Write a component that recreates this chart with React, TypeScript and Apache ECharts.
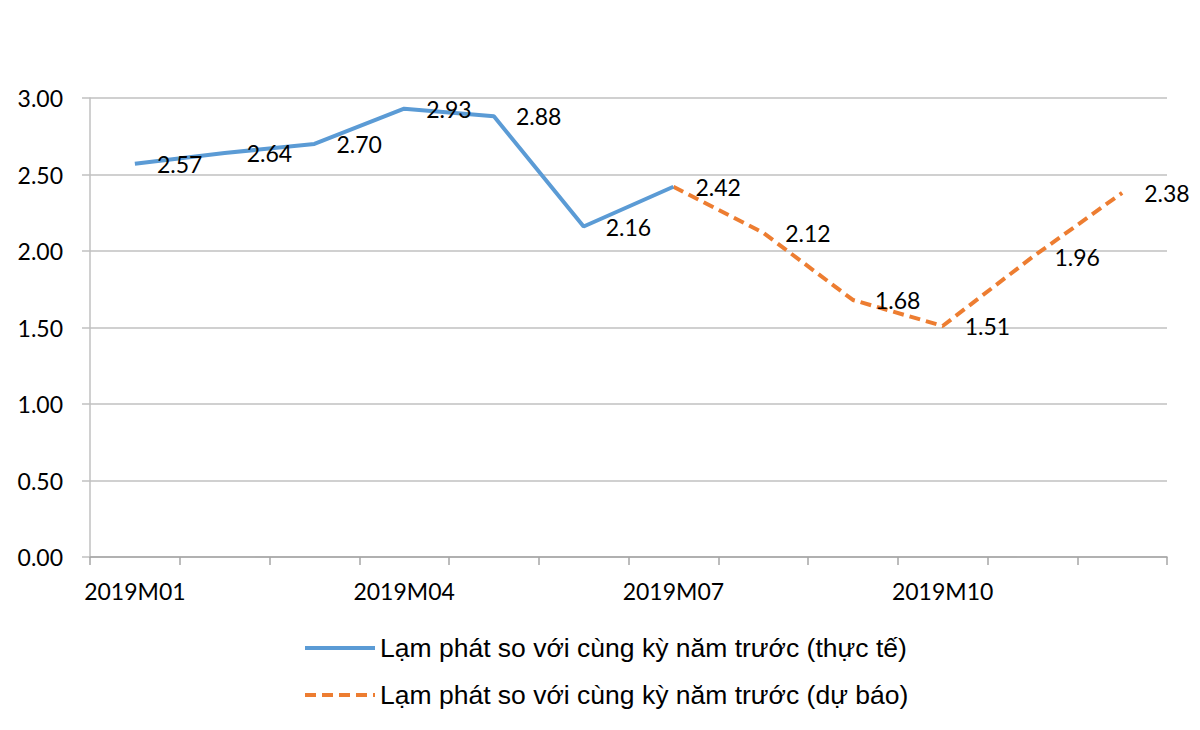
import { useEffect, useRef } from 'react'
import * as echarts from 'echarts'

// 月份
const months = [
  '2019M01', '2019M02', '2019M03', '2019M04', '2019M05', '2019M06',
  '2019M07', '2019M08', '2019M09', '2019M10', '2019M11', '2019M12',
]
// thực tế
const actual = [2.57, 2.64, 2.70, 2.93, 2.88, 2.16, 2.42, '-', '-', '-', '-', '-']
// dự báo
const forecast = ['-', '-', '-', '-', '-', '-', 2.42, 2.12, 1.68, 1.51, 1.96, 2.38]
const seriesNames = [
  'Lạm phát so với cùng kỳ năm trước (thực tế)',
  'Lạm phát so với cùng kỳ năm trước (dự báo)',
]
const yMin = 0
const yMax = 3
const yStep = 0.5

const colors = {
  actual: '#5b9bd5',
  forecast: '#ed7d31',
  grid: '#c0c0c0',
  axis: '#a6a6a6',
  text: '#000000',
}

const numFont = 'Lato, "Liberation Sans", sans-serif'

export default function App() {
  const chartRef = useRef<HTMLDivElement>(null)

  useEffect(() => {
    if (!chartRef.current) return
    const chart = echarts.init(chartRef.current, undefined, { renderer: 'svg' })

    // 数据标签：点的右侧
    const label = {
      show: true,
      position: 'right' as const,
      distance: 21,
      color: colors.text,
      fontFamily: numFont,
      fontSize: 23,
      formatter: (p: any) => Number(p.value).toFixed(2),
    }

    const option: echarts.EChartsOption = {
      animation: false,
      backgroundColor: '#ffffff',
      grid: { left: 90, right: 33, top: 98, bottom: 173, containLabel: false },
      legend: {
        data: seriesNames,
        orient: 'vertical',
        left: 303,
        top: 633,
        padding: 0,
        itemWidth: 70,
        itemHeight: 14,
        itemGap: 17,
        lineStyle: { width: 4 },
        textStyle: {
          color: colors.text,
          fontFamily: '"Liberation Sans", Arial, sans-serif',
          fontSize: 26.5,
          lineHeight: 30,
          padding: [0, 0, 0, 0],
        },
      },
      xAxis: {
        type: 'category',
        data: months,
        boundaryGap: true,
        axisLine: { lineStyle: { color: colors.axis, width: 1.5 } },
        axisTick: { show: true, interval: 0, length: 8, lineStyle: { color: colors.axis, width: 1.5 } },
        axisLabel: { interval: 2, margin: 22, color: colors.text, fontFamily: numFont, fontSize: 23 },
        splitLine: { show: false },
      },
      yAxis: {
        type: 'value',
        min: yMin,
        max: yMax,
        interval: yStep,
        axisLine: { show: true, lineStyle: { color: colors.grid, width: 1.5 } },
        axisTick: { show: true, length: 8, lineStyle: { color: colors.grid, width: 1.5 } },
        axisLabel: {
          margin: 27,
          color: colors.text,
          fontFamily: numFont,
          fontSize: 23,
          formatter: (v: number) => v.toFixed(2),
        },
        splitLine: { lineStyle: { color: colors.grid, width: 1.5 } },
      },
      series: [
        {
          name: seriesNames[0],
          type: 'line',
          data: actual,
          symbol: 'circle',
          symbolSize: 2,
          itemStyle: { color: 'rgba(0,0,0,0)' },
          lineStyle: { color: colors.actual, width: 4 },
          label,
          z: 3,
        },
        {
          name: seriesNames[1],
          type: 'line',
          data: forecast.map((v, i) => (i === 6 ? { value: v, label: { show: false } } : v)),
          symbol: 'circle',
          symbolSize: 2,
          itemStyle: { color: 'rgba(0,0,0,0)' },
          lineStyle: { color: colors.forecast, width: 4, type: [11, 6] },
          label,
          z: 2,
        },
      ],
    }

    chart.setOption(option)
    return () => chart.dispose()
  }, [])

  return (
    <div
      ref={chartRef}
      style={{ position: 'fixed', left: 0, top: 0, width: 1200, height: 730, background: '#fff' }}
    />
  )
}
